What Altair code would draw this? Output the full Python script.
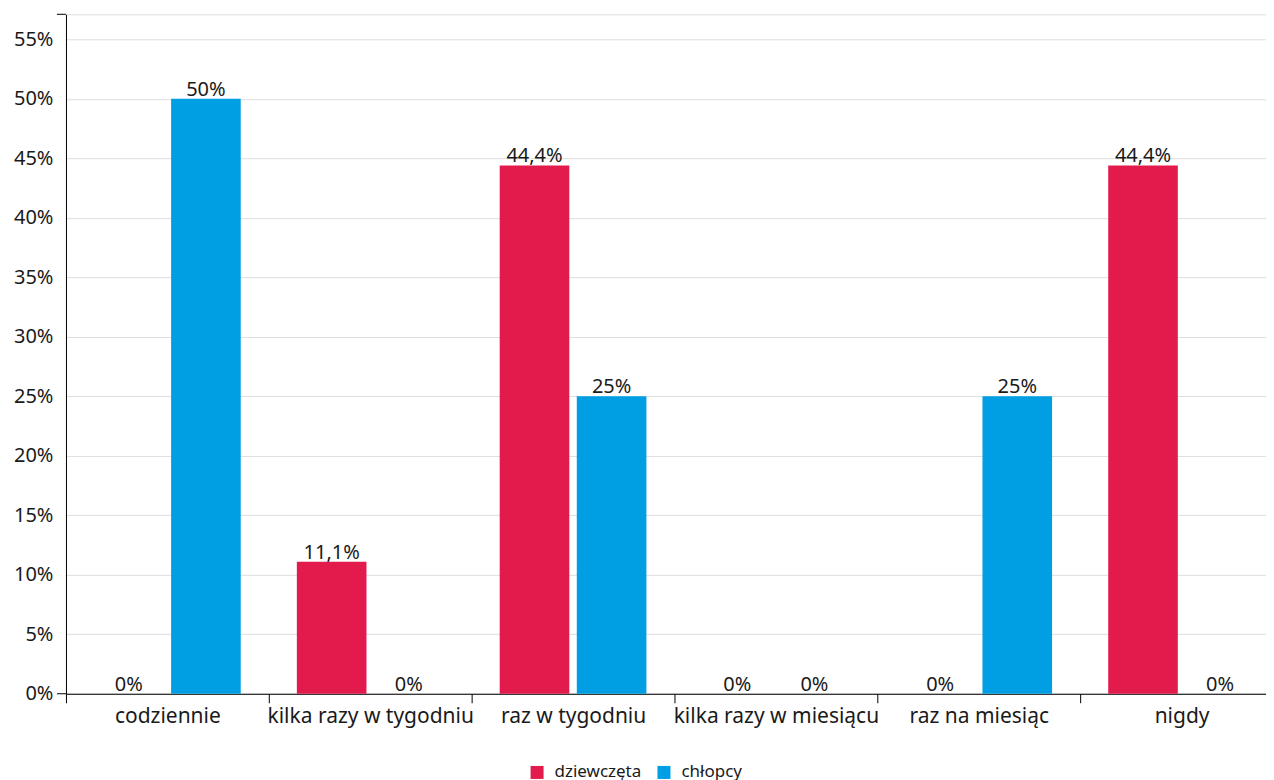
import altair as alt
import pandas as pd

categories = ["codziennie", "kilka razy w tygodniu", "raz w tygodniu",
              "kilka razy w miesiącu", "raz na miesiąc", "nigdy"]
series = ["dziewczęta", "chłopcy"]
girls = [0, 11.1, 44.4, 0, 0, 44.4]
boys = [50, 0, 25, 0, 25, 0]
y_ticks = [0, 5, 10, 15, 20, 25, 30, 35, 40, 45, 50, 55]
y_max = 57.1
colors = ["#E31B4C", "#009FE3"]

rows = []
for c, g, b in zip(categories, girls, boys):
    rows.append({"kat": c, "grupa": series[0], "v": g})
    rows.append({"kat": c, "grupa": series[1], "v": b})
df = pd.DataFrame(rows)
df["label"] = df["v"].map(lambda v: f"{v:g}".replace(".", ",") + "%")

FONT = "Noto Sans"
TXT = "#1a1a1a"

x_enc = alt.X(
    "kat:N", sort=categories,
    scale=alt.Scale(paddingInner=0, paddingOuter=0),
    axis=alt.Axis(title=None, tickBand="extent", labelAngle=0, tickSize=9,
                  labelPadding=3, labelFontSize=21, labelFont=FONT,
                  labelColor=TXT, domainColor="#000", tickColor="#000",
                  labelLimit=400),
)
xo_enc = alt.XOffset("grupa:N", sort=series,
                     scale=alt.Scale(paddingInner=0.097, paddingOuter=0.364))
y_enc = alt.Y(
    "v:Q",
    scale=alt.Scale(domain=[0, y_max], nice=False, zero=True),
    axis=alt.Axis(values=y_ticks, labelExpr="datum.value + '%'", title=None,
                  ticks=False, labelPadding=13, grid=True, gridColor="#dedede",
                  domainColor="#000", labelFontSize=20, labelFont=FONT,
                  labelColor=TXT),
)

bars = alt.Chart(df).mark_bar().encode(
    x=x_enc, xOffset=xo_enc, y=y_enc,
    color=alt.Color("grupa:N", sort=series,
                    scale=alt.Scale(domain=series, range=colors),
                    legend=alt.Legend(title=None, orient="none", legendX=463,
                                      legendY=750, direction="horizontal",
                                      symbolType="square", symbolSize=169,
                                      symbolStrokeWidth=0, labelFontSize=17,
                                      labelFont=FONT, labelColor=TXT,
                                      labelOffset=9, columnPadding=14)),
)

labels = alt.Chart(df).mark_text(baseline="alphabetic", dy=-3, fontSize=20,
                                 font=FONT, color=TXT).encode(
    x=alt.X("kat:N", sort=categories), xOffset=alt.XOffset("grupa:N", sort=series),
    y="v:Q", text="label:N",
)

hooks = alt.Chart(pd.DataFrame({"y": [0, y_max]})).mark_rule(
    color="#000", strokeWidth=1).encode(
    y="y:Q", x=alt.value(-9), x2=alt.value(0))

chart = alt.layer(bars, labels, hooks).properties(
    width=1218, height=680,
    padding={"left": 5, "top": 5, "bottom": 5, "right": -18},
).configure_view(stroke=None).configure(background="white")

chart.save("out.html", embed_options={"renderer": "svg", "actions": False})
